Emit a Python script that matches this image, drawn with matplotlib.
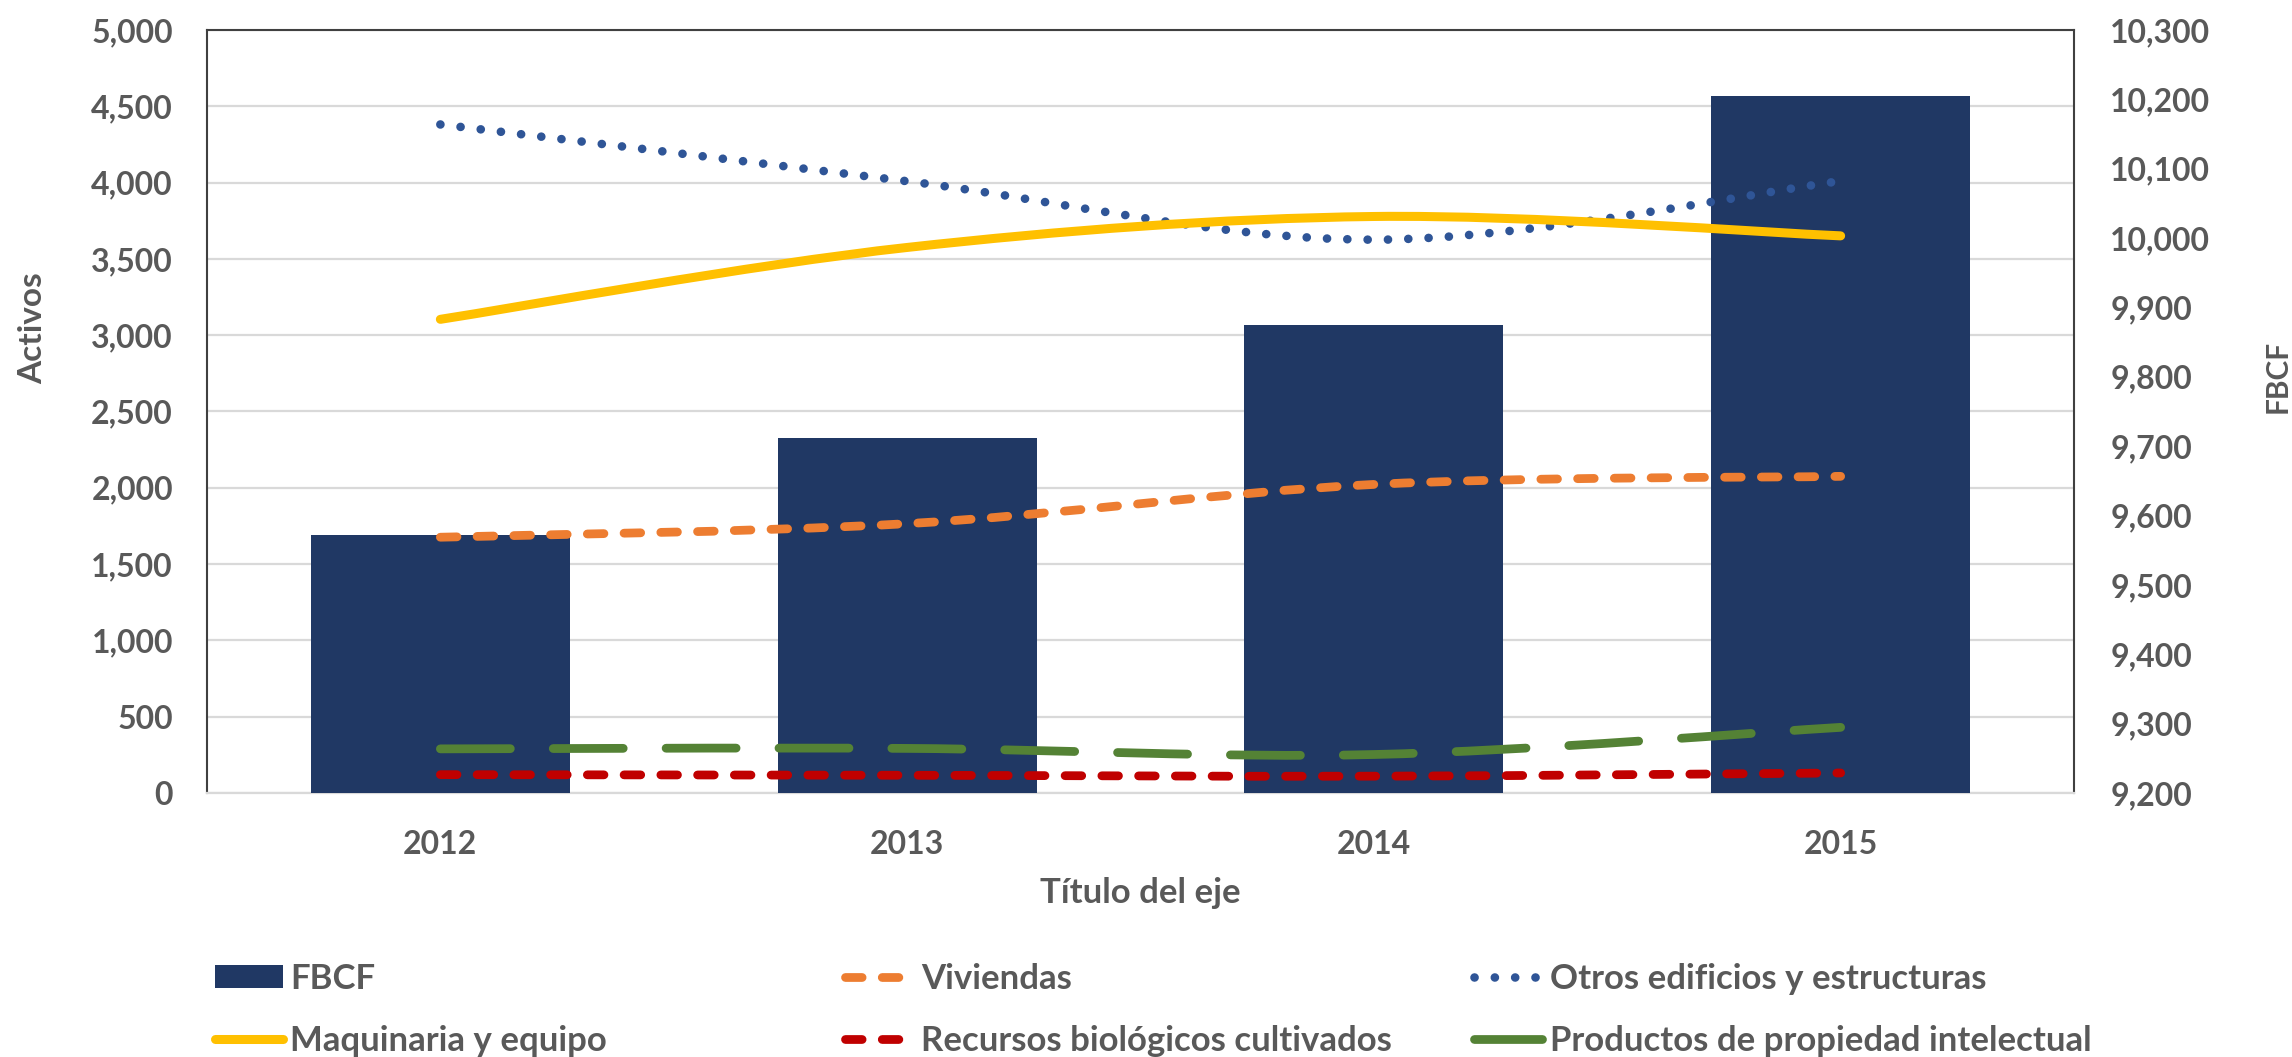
import numpy as np
import matplotlib
matplotlib.use('Agg')
import matplotlib.pyplot as plt
from matplotlib.path import Path
from matplotlib.patches import PathPatch, Patch
from matplotlib.lines import Line2D
from matplotlib.ticker import FuncFormatter

# ---------------- data ----------------
years = ['2012', '2013', '2014', '2015']
fbcf = [9572, 9712, 9874, 10205]
viviendas = [1676, 1765, 2022, 2075]
otros = [4381, 4009, 3626, 4010]
maquinaria = [3104, 3575, 3778, 3651]
recursos = [120, 116, 110, 131]
productos = [289, 292, 252, 430]

left_ticks = list(range(0, 5001, 500))
right_ticks = list(range(9200, 10301, 100))

TEXT = '#595959'
FS = 23
LFS = 25
plt.rcParams['font.family'] = ['Lato', 'DejaVu Sans']
plt.rcParams['font.weight'] = 'bold'
plt.rcParams['axes.labelweight'] = 'bold'

fig = plt.figure(figsize=(22.92, 10.57), dpi=100)
ax = fig.add_axes([0.0903, 0.2498, 0.8146, 0.7218])
ax_bar = ax.twinx()
ax_line = ax.twinx()

x = np.arange(len(years))
fmt = FuncFormatter(lambda v, p: f'{v:,.0f}')

# base axes: grid, left ticks, x ticks
ax.set_xlim(-0.5, len(years) - 0.5)
ax.set_ylim(0, 5000)
ax.set_yticks(left_ticks)
ax.yaxis.set_major_formatter(fmt)
ax.set_xticks(x, years)
ax.grid(axis='y', color='#d9d9d9', lw=1.6)
ax.set_axisbelow(True)
ax.tick_params(axis='y', length=0, pad=24.5, labelsize=FS, labelcolor=TEXT)
ax.tick_params(axis='x', length=0, pad=27, labelsize=FS, labelcolor=TEXT)
for s in ['left', 'top', 'right']:
    ax.spines[s].set_color('#404040')
    ax.spines[s].set_linewidth(1.5)
ax.spines['bottom'].set_color('#d9d9d9')
ax.spines['bottom'].set_linewidth(1.6)

ax.set_xlabel('Título del eje', fontsize=25, color=TEXT, fontweight='bold')
ax.xaxis.label.set_va('baseline')
ax.xaxis.set_label_coords(0.5, -0.1442)
ax.set_ylabel('Activos', fontsize=24, color=TEXT, fontweight='bold')
ax.yaxis.label.set_va('baseline')
ax.yaxis.set_label_coords(-0.0884, 0.6094)

# bars on right scale
ax_bar.bar(x, fbcf, width=0.555, color='#203864', zorder=2)
ax_bar.set_ylim(9200, 10300)
ax_bar.set_yticks(right_ticks)
ax_bar.yaxis.set_major_formatter(fmt)
ax_bar.tick_params(axis='y', length=0, pad=26, labelsize=FS, labelcolor=TEXT)
ax_bar.set_ylabel('FBCF', fontsize=21.5, color=TEXT, fontweight='bold')
ax_bar.yaxis.label.set_va('baseline')
ax_bar.yaxis.set_label_coords(1.1136, 0.5465)
for s in ax_bar.spines.values():
    s.set_visible(False)

# lines on left scale (smoothed like Excel)
ax_line.set_ylim(0, 5000)
ax_line.tick_params(axis='y', right=False, labelright=False, length=0)
for s in ax_line.spines.values():
    s.set_visible(False)


def smooth_path(xs, ys, t=1 / 6):
    n = len(xs)
    verts = [(xs[0], ys[0])]
    codes = [Path.MOVETO]
    for i in range(n - 1):
        a = max(i - 1, 0)
        d = min(i + 2, n - 1)
        c1 = (xs[i] + (xs[i + 1] - xs[a]) * t, ys[i] + (ys[i + 1] - ys[a]) * t)
        c2 = (xs[i + 1] - (xs[d] - xs[i]) * t, ys[i + 1] - (ys[d] - ys[i]) * t)
        verts += [c1, c2, (xs[i + 1], ys[i + 1])]
        codes += [Path.CURVE4] * 3
    return Path(verts, codes)


series = [
    ('Viviendas', viviendas, '#ED7D31', 6.3, (0, (1.9, 2.3))),
    ('Otros edificios y estructuras', otros, '#2F5597', 6.2, (0, (0.01, 2.35))),
    ('Maquinaria y equipo', maquinaria, '#FFC000', 6.5, '-'),
    ('Recursos biológicos cultivados', recursos, '#C00000', 6.3, (0, (1.9, 2.3))),
    ('Productos de propiedad intelectual', productos, '#548235', 6.3, (0, (8.0, 4.9))),
]

handles = {}
handles['FBCF'] = Patch(facecolor='#203864')
for name, vals, col, lw, ls in series:
    p = PathPatch(smooth_path(x, vals), facecolor='none', edgecolor=col, lw=lw,
                  linestyle=ls, capstyle='round', joinstyle='round', zorder=3)
    ax_line.add_patch(p)
    handles[name] = Line2D([], [], color=col, lw=lw, linestyle=ls,
                           dash_capstyle='round', solid_capstyle='round')

cols = [['FBCF', 'Maquinaria y equipo'],
        ['Viviendas', 'Recursos biológicos cultivados'],
        ['Otros edificios y estructuras', 'Productos de propiedad intelectual']]
col_x = [0.0936, 0.3687, 0.6433]
for names, cx in zip(cols, col_x):
    leg = fig.legend([handles[n] for n in names], names, loc='upper left',
                     bbox_to_anchor=(cx, 0.0889), frameon=False, fontsize=LFS,
                     handlelength=1.96, handleheight=0.64, handletextpad=0.22,
                     labelspacing=0.86, borderpad=0, borderaxespad=0)
    for t in leg.get_texts():
        t.set_color(TEXT)

fig.savefig('out.png', dpi=100)
